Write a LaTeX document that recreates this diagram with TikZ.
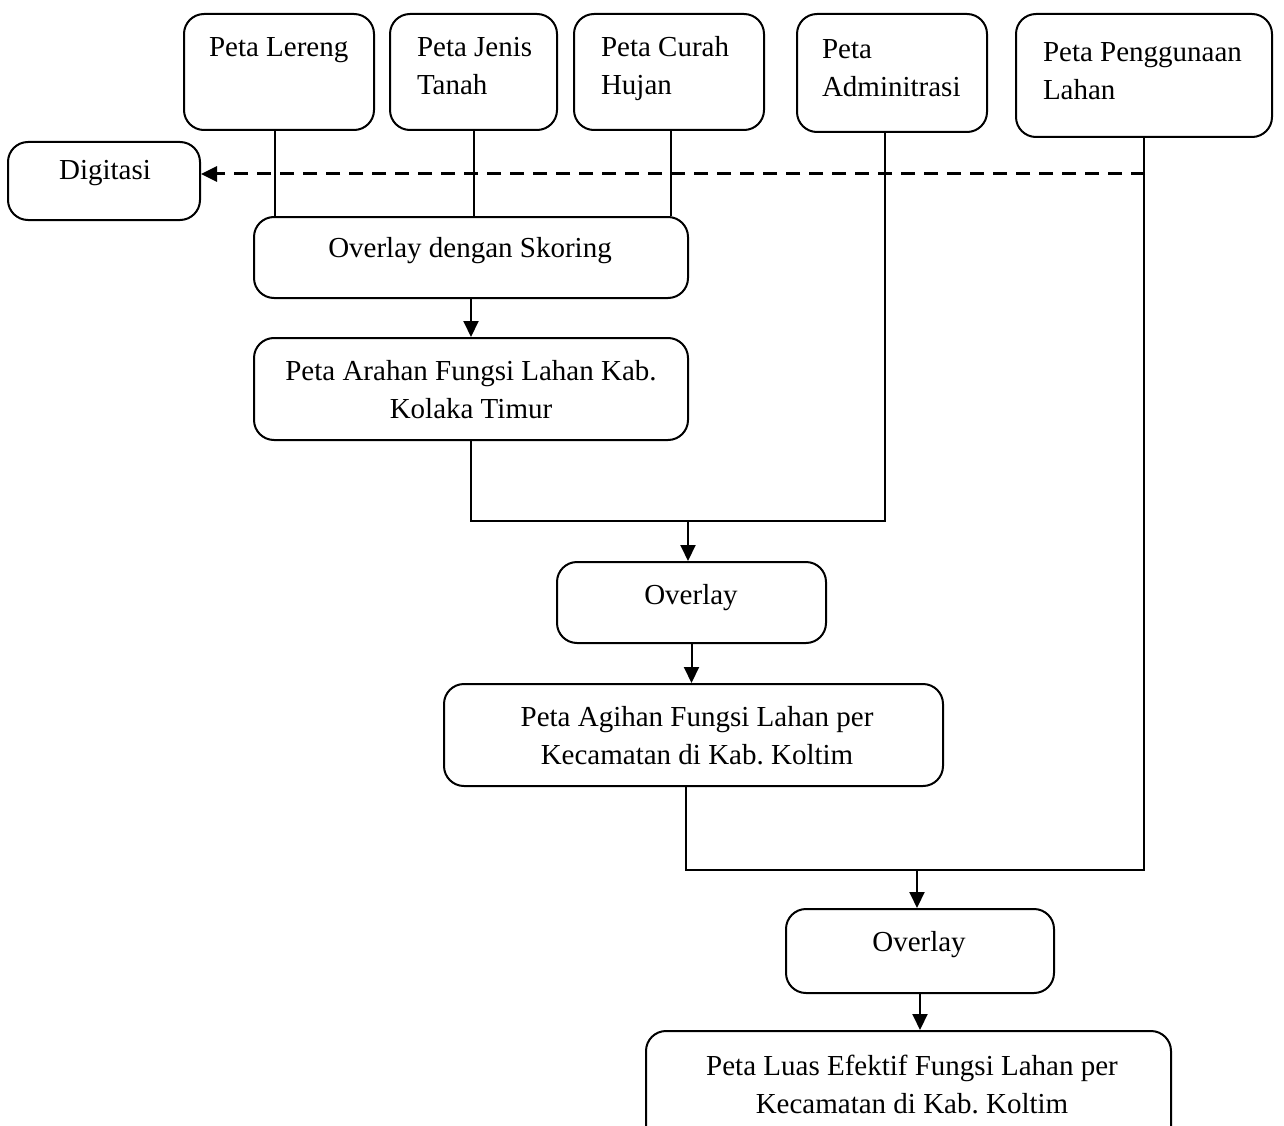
\documentclass[tikz,border=0pt]{standalone}
\usepackage{fontspec}
\setmainfont{Liberation Serif}
\usetikzlibrary{arrows.meta,positioning}
\frenchspacing

\begin{document}
\begin{tikzpicture}[x=1pt, y=-1pt, line width=2pt, >={Triangle[length=16pt,width=15pt]},
  box/.style={draw, rounded corners=20pt, inner sep=0pt},
  txt/.style={font=\fontsize{29}{38}\selectfont, inner sep=0pt, align=left}]
\useasboundingbox (0,0) rectangle (1284,1126);
\clip (0,0) rectangle (1284,1126);
% input maps
\node[box, minimum width=190pt, minimum height=116pt] (lereng) at (279,72) {};
\node[box, minimum width=167pt, minimum height=116pt] (jenis) at (473.5,72) {};
\node[box, minimum width=190pt, minimum height=116pt] (curah) at (669,72) {};
\node[box, minimum width=190pt, minimum height=118pt] (admin) at (892,73) {};
\node[box, minimum width=256pt, minimum height=123pt] (guna) at (1144,75.5) {};
\node[txt, anchor=base west] (lerengtxt) at (208,57) {Peta Lereng};
\node[txt, anchor=base west] (jenistxt) at (416,95) {Peta Jenis\\Tanah};
\node[txt, anchor=base west] (curahtxt) at (600,95) {Peta Curah\\Hujan};
\node[txt, anchor=base west] (admintxt) at (821,97) {Peta\\Adminitrasi};
\node[txt, anchor=base west] (gunatxt) at (1042,100) {Peta Penggunaan\\Lahan};
% process boxes
\node[box, minimum width=192pt, minimum height=78pt] (digit) at (104,181) {};
\node[box, minimum width=434pt, minimum height=81pt] (skor) at (471,257.5) {};
\node[box, minimum width=434pt, minimum height=102pt] (arahan) at (471,389) {};
\node[box, minimum width=269pt, minimum height=81pt] (ovl1) at (691.5,602.5) {};
\node[box, minimum width=499pt, minimum height=102pt] (agihan) at (693.5,735) {};
\node[box, minimum width=268pt, minimum height=84pt] (ovl2) at (920,951) {};
\node[box, minimum width=525pt, minimum height=140pt] (luas) at (908.5,1101) {};
\node[txt, anchor=base] (digittxt) at (105,180) {Digitasi};
\node[txt, anchor=base] (skortxt) at (470,257) {Overlay dengan Skoring};
\node[txt, anchor=base, align=center] (arahantxt) at (471,418) {Peta Arahan Fungsi Lahan Kab.\\Kolaka Timur};
\node[txt, anchor=base] (ovl1txt) at (691,604) {Overlay};
\node[txt, anchor=base, align=center] (agihantxt) at (697,764) {Peta Agihan Fungsi Lahan per\\Kecamatan di Kab. Koltim};
\node[txt, anchor=base] (ovl2txt) at (919,951) {Overlay};
\node[txt, anchor=base, align=center] (luastxt) at (912,1113) {Peta Luas Efektif Fungsi Lahan per\\Kecamatan di Kab. Koltim};
% joints
\coordinate (dstart) at (1145,174);
\coordinate (m1) at (688,521);
\coordinate (m2) at (917,870);
% connectors
\draw ([xshift=-4pt]lereng.south) -- ([xshift=-4pt]lereng.south |- skor.north);
\draw (jenis.south) -- (jenis.south |- skor.north);
\draw ([xshift=2pt]curah.south) -- ([xshift=2pt]curah.south |- skor.north);
\draw[->, dash pattern=on 14pt off 9pt, line width=3pt] (dstart) -- (dstart -| digit.east);
\draw[->] (skor) -- (arahan);
\draw (arahan.south) |- (m1) -| ([xshift=-7pt]admin.south);
\draw[->] (m1) -- (m1 |- ovl1.north);
\draw[->] (ovl1) -- (ovl1 |- agihan.north);
\draw ([xshift=-8pt]agihan.south) |- (m2) -| (guna.south);
\draw[->] (m2) -- (m2 |- ovl2.north);
\draw[->] (ovl2) -- (ovl2 |- luas.north);
\end{tikzpicture}
\end{document}
